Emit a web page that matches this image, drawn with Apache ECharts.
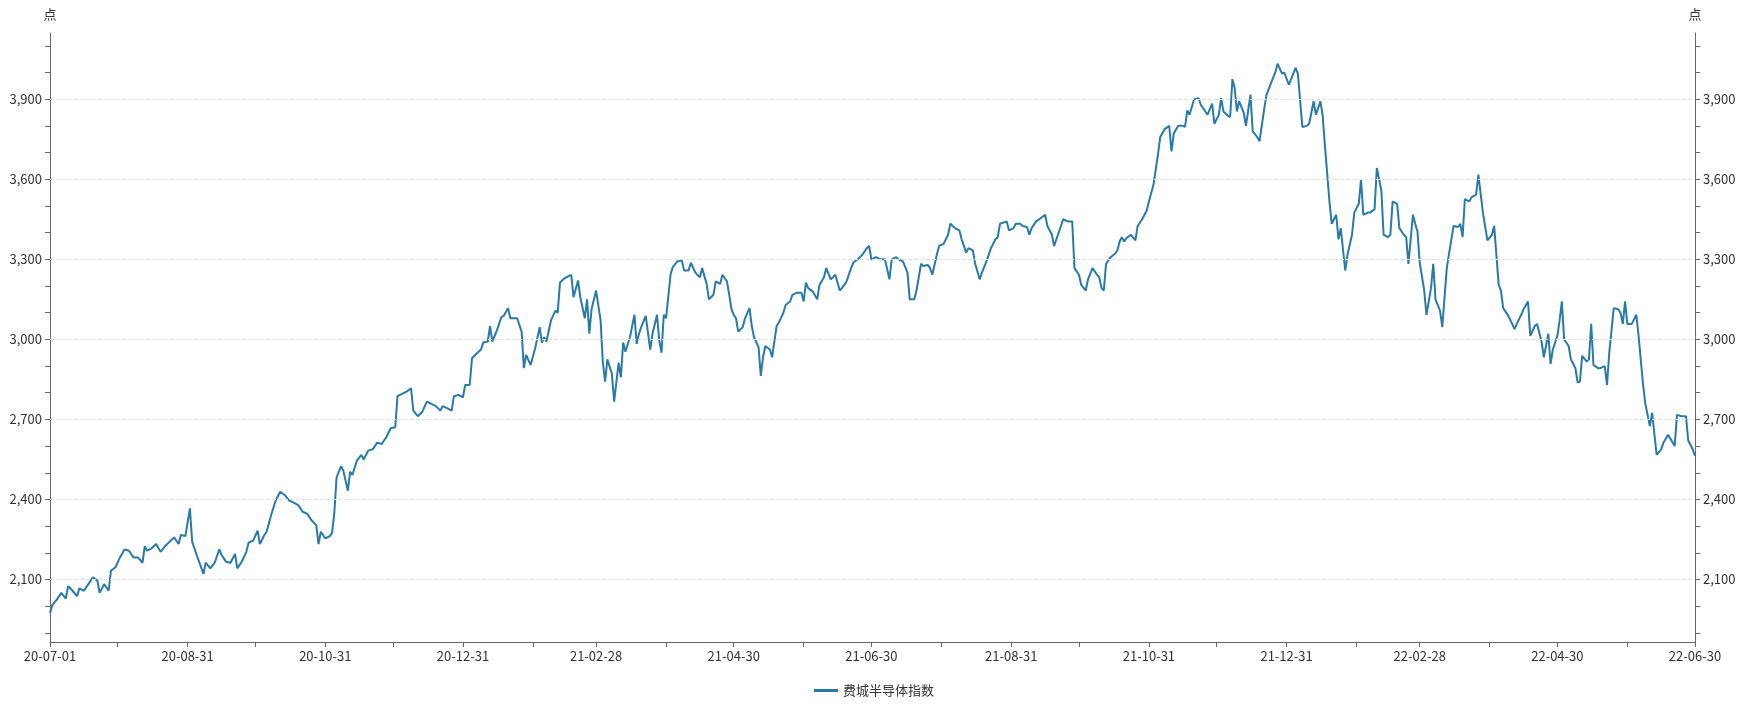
<!DOCTYPE html>
<html>
<head>
<meta charset="utf-8">
<script src="https://cdn.jsdelivr.net/npm/echarts@6/dist/echarts.min.js"></script>
<style>
  html, body { margin: 0; padding: 0; background: #fff; }
  #chart { width: 1748px; height: 706px; }
</style>
</head>
<body>
<div id="chart"></div>
<script>
// 起始日期 2020-07-01，days 为距起始日的天数
var startDate = '2020-07-01';
var days = [0,1,3,5,7,8,10,12,13,15,17,19,21,22,24,26,27,29,31,33,35,37,39,41,42,43,45,47,49,51,53,55,57,58,60,62,63,65,68,69,71,73,75,76,78,80,82,83,85,87,88,90,92,93,95,96,98,100,102,104,106,108,110,112,114,116,118,119,120,122,124,125,126,127,129,130,132,133,134,136,138,139,141,143,145,147,149,151,153,154,156,158,160,161,163,165,167,169,171,173,174,176,178,179,181,183,184,186,187,189,191,192,194,195,196,198,200,201,203,204,205,207,209,210,211,213,215,217,218,219,220,222,224,225,226,228,231,232,234,235,237,238,239,240,242,244,245,246,247,249,250,252,253,254,255,257,259,260,261,262,264,266,267,269,270,271,272,273,275,276,278,280,281,283,284,286,288,289,291,292,294,295,297,298,300,301,302,303,304,305,307,308,310,311,312,314,315,316,317,319,320,322,323,325,326,328,329,331,333,334,335,336,338,340,341,343,344,346,347,348,350,352,353,355,356,358,360,362,363,364,366,368,370,372,373,375,376,378,380,381,383,384,386,387,389,390,391,393,394,396,398,399,401,403,404,406,407,409,410,412,413,415,417,419,420,421,424,425,427,428,430,431,433,434,435,437,439,441,442,444,445,446,448,449,451,453,454,456,457,459,460,462,464,465,466,467,468,470,472,473,474,475,476,477,479,481,482,484,486,487,489,491,492,494,496,497,498,500,502,503,504,505,507,509,510,512,513,515,516,518,519,520,522,523,524,525,526,527,529,530,532,533,535,536,538,539,541,543,544,546,547,549,550,552,553,555,557,558,560,561,563,564,565,567,568,570,571,572,574,575,577,578,580,581,582,584,585,587,588,590,591,593,594,595,597,598,600,601,602,604,605,606,607,609,610,612,613,614,616,617,619,620,622,624,625,626,627,629,630,632,633,635,637,639,640,642,643,644,646,648,649,650,652,653,655,656,658,659,661,662,664,665,666,668,669,670,671,673,674,676,677,678,679,681,682,683,684,686,687,689,690,691,693,695,696,697,698,699,701,703,704,706,707,709,710,712,714,715,717,718,720,721,723,725,726,728,729];
var values = [1975,2004,2025,2050,2029,2075,2058,2038,2067,2058,2083,2108,2096,2050,2083,2058,2133,2146,2183,2213,2208,2183,2183,2163,2225,2208,2217,2233,2204,2225,2242,2258,2233,2267,2263,2367,2242,2192,2121,2163,2142,2163,2213,2192,2167,2163,2196,2142,2167,2204,2238,2246,2283,2233,2267,2279,2342,2396,2429,2417,2396,2388,2379,2354,2346,2321,2304,2233,2279,2254,2263,2275,2350,2483,2525,2508,2433,2504,2492,2546,2567,2550,2583,2588,2613,2608,2633,2667,2671,2787,2796,2804,2817,2733,2712,2729,2767,2758,2750,2733,2750,2742,2733,2787,2792,2783,2829,2829,2929,2946,2962,2988,2992,3050,2992,3033,3083,3088,3117,3079,3079,3079,3029,2892,2942,2904,2967,3046,2988,3008,2992,3071,3108,3100,3213,3229,3242,3158,3221,3158,3079,3150,3021,3113,3183,3071,2913,2842,2925,2871,2767,2913,2858,2988,2954,3008,3092,2983,3021,3046,3088,2962,3021,3092,2996,2950,3092,3079,3242,3271,3292,3296,3258,3258,3287,3250,3233,3267,3208,3150,3167,3217,3208,3242,3217,3167,3113,3092,3079,3029,3046,3079,3117,3050,3008,2971,2863,2933,2975,2962,2933,3050,3063,3100,3129,3142,3167,3175,3175,3142,3213,3192,3179,3150,3204,3233,3267,3225,3233,3242,3183,3204,3217,3267,3288,3300,3317,3342,3350,3300,3308,3300,3300,3225,3300,3308,3300,3292,3250,3150,3150,3183,3283,3275,3279,3267,3242,3317,3350,3358,3392,3433,3417,3408,3375,3325,3342,3333,3283,3225,3250,3292,3342,3375,3383,3433,3442,3408,3417,3433,3433,3425,3421,3392,3417,3442,3454,3467,3425,3392,3350,3375,3425,3450,3442,3442,3267,3242,3204,3183,3225,3267,3242,3233,3192,3183,3283,3308,3321,3333,3367,3383,3367,3379,3392,3371,3425,3450,3483,3517,3579,3692,3758,3788,3800,3704,3771,3800,3800,3796,3858,3842,3900,3904,3879,3854,3842,3883,3808,3842,3904,3854,3838,3833,3975,3942,3854,3892,3850,3800,3917,3779,3758,3742,3858,3913,3958,4000,4033,3996,4000,3954,3975,4017,3996,3796,3800,3808,3892,3842,3892,3838,3725,3517,3433,3467,3375,3417,3258,3317,3392,3475,3508,3600,3467,3475,3475,3488,3642,3558,3392,3383,3392,3517,3508,3417,3392,3383,3283,3467,3433,3404,3288,3183,3092,3192,3283,3150,3108,3046,3267,3321,3425,3421,3433,3383,3525,3517,3533,3542,3617,3475,3371,3392,3425,3204,3183,3117,3092,3058,3038,3058,3092,3113,3142,3013,3050,3058,2992,2933,3021,2908,2962,3013,3071,3142,3000,2975,2925,2892,2838,2842,2938,2917,2925,3058,2904,2892,2892,2900,2829,2950,3117,3113,3100,3058,3142,3058,3058,3092,3013,2829,2758,2675,2725,2567,2588,2613,2642,2629,2600,2717,2712,2712,2621,2588,2563];

var yTicks = [1900,2000,2100,2200,2300,2400,2500,2600,2700,2800,2900,3000,3100,3200,3300,3400,3500,3600,3700,3800,3900,4000,4100];
var yLabels = [2100,2400,2700,3000,3300,3600,3900];
var xLabelDates = ['2020-07-01','2020-08-31','2020-10-31','2020-12-31','2021-02-28','2021-04-30','2021-06-30','2021-08-31','2021-10-31','2021-12-31','2022-02-28','2022-04-30','2022-06-30'];
var xTickDates = ['2020-07-01','2020-07-31','2020-08-31','2020-09-30','2020-10-31','2020-11-30','2020-12-31','2021-01-31','2021-02-28','2021-03-31','2021-04-30','2021-05-31','2021-06-30','2021-07-31','2021-08-31','2021-09-30','2021-10-31','2021-11-30','2021-12-31','2022-01-31','2022-02-28','2022-03-31','2022-04-30','2022-05-31','2022-06-30'];

function utc(s) {
	var p = s.split('-');
	return Date.UTC(+p[0], +p[1] - 1, +p[2]);
}
function dayOf(s) { return Math.round((utc(s) - utc(startDate)) / 86400000); }
function pad(n) { return n < 10 ? '0' + n : '' + n; }
function dayLabel(d) {
	var t = new Date(utc(startDate) + Math.round(d) * 86400000);
	return pad(t.getUTCFullYear() % 100) + '-' + pad(t.getUTCMonth() + 1) + '-' + pad(t.getUTCDate());
}

var n = Math.min(days.length, values.length);
var seriesData = [];
for (var i = 0; i < n; i++) seriesData.push([days[i], values[i]]);

var myChart = echarts.init(document.getElementById('chart'));

var textStyle = { color: '#333', fontSize: 13, fontFamily: 'Noto Sans CJK SC' };
function yAxis(pos) {
	return {
		type: 'value',
		position: pos,
		name: '点',
		nameLocation: 'end',
		nameGap: 12,
		nameTextStyle: { color: '#333', fontSize: 13, fontFamily: 'Noto Sans CJK SC', align: 'center' },
		min: 1866,
		max: 4148,
		axisLine: { show: true, lineStyle: { color: '#666' } },
		axisTick: { show: true, customValues: yTicks, length: 5, lineStyle: { color: '#666' } },
		axisLabel: Object.assign({
			customValues: yLabels,
			formatter: function (v) { return echarts.format.addCommas(v); }
		}, textStyle),
		splitLine: { show: false }
	};
}

var option = {
	animation: false,
	grid: { left: 50, right: 53, top: 33, bottom: 64, containLabel: false },
	legend: {
		bottom: 4,
		data: ['费城半导体指数'],
		icon: 'rect',
		itemWidth: 24,
		itemHeight: 3,
		textStyle: textStyle
	},
	xAxis: {
		type: 'value',
		min: 0,
		max: dayOf('2022-06-30'),
		axisLine: { lineStyle: { color: '#666' } },
		axisTick: { customValues: xTickDates.map(dayOf), length: 5, lineStyle: { color: '#666' } },
		axisLabel: Object.assign({
			customValues: xLabelDates.map(dayOf),
			formatter: dayLabel
		}, textStyle),
		splitLine: { show: false }
	},
	yAxis: [yAxis('left'), yAxis('right')],
	series: [{
		name: '费城半导体指数',
		type: 'line',
		showSymbol: false,
		data: seriesData,
		itemStyle: { color: '#2a7aa6' },
		lineStyle: { color: '#2a7aa6', width: 2 },
		markLine: {
			silent: true,
			symbol: 'none',
			label: { show: false },
			lineStyle: { color: '#e0e0e0', type: 'dashed', width: 1 },
			data: yLabels.map(function (v) { return { yAxis: v }; })
		}
	}]
};

myChart.setOption(option);
</script>
</body>
</html>
